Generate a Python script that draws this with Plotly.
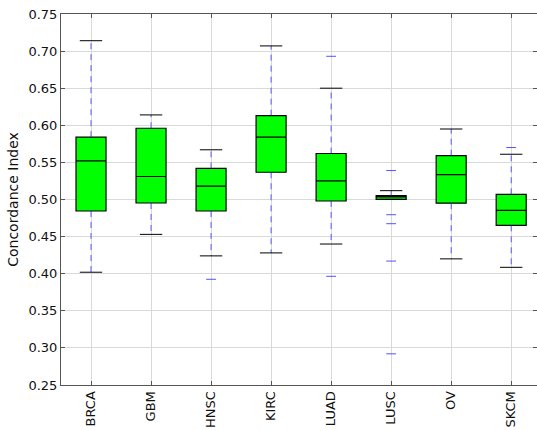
import plotly.graph_objects as go

categories = ["BRCA", "GBM", "HNSC", "KIRC", "LUAD", "LUSC", "OV", "SKCM"]
q1 = [0.4845, 0.4953, 0.4845, 0.5367, 0.4980, 0.5002, 0.4950, 0.4652]
median = [0.552, 0.531, 0.518, 0.584, 0.525, 0.5035, 0.5335, 0.4854]
q3 = [0.584, 0.596, 0.542, 0.613, 0.562, 0.5051, 0.559, 0.507]
whisker_low = [0.402, 0.453, 0.424, 0.428, 0.440, 0.5002, 0.420, 0.4086]
whisker_high = [0.714, 0.614, 0.567, 0.707, 0.650, 0.5119, 0.595, 0.561]
flier_cat = ["HNSC", "LUAD", "LUAD", "LUSC", "LUSC", "LUSC", "LUSC", "LUSC", "SKCM"]
flier_val = [0.3925, 0.693, 0.3965, 0.539, 0.4795, 0.4674, 0.417, 0.292, 0.570]

fig = go.Figure()

# whiskers (dashed blue)
wx, wy = [], []
for c, lo, a, b, hi in zip(categories, whisker_low, q1, q3, whisker_high):
    wx += [c, c, None, c, c, None]
    wy += [a, lo, None, b, hi, None]
fig.add_trace(go.Scatter(x=wx, y=wy, mode="lines",
                         line=dict(color="rgba(40,40,255,0.75)", width=1, dash="6px,5px"),
                         hoverinfo="skip", showlegend=False))

# boxes
fig.add_trace(go.Box(x=categories, q1=q1, median=median, q3=q3,
                     lowerfence=q1, upperfence=q3, width=0.5,
                     fillcolor="#00ff00", line=dict(color="black", width=1.2),
                     whiskerwidth=0, boxpoints=False, showlegend=False))

# caps
fig.add_trace(go.Scatter(x=categories + categories, y=whisker_low + whisker_high,
                         mode="markers",
                         marker=dict(symbol="line-ew", size=16,
                                     line=dict(color="black", width=1)),
                         showlegend=False, hoverinfo="skip"))

# fliers
fig.add_trace(go.Scatter(x=flier_cat, y=flier_val, mode="markers",
                         marker=dict(symbol="line-ew", size=7,
                                     line=dict(color="rgba(40,40,255,0.8)", width=1)),
                         showlegend=False))

axis_common = dict(showline=True, linecolor="#555555", linewidth=1, mirror="ticks",
                   ticks="inside", ticklen=4, tickcolor="#555555", automargin=False,
                   showgrid=True, gridcolor="#d9d9d9", gridwidth=1, zeroline=False,
                   tickfont=dict(family="DejaVu Sans", size=13, color="#111111"))

fig.update_layout(
    width=537, height=430,
    margin=dict(l=61, r=0, t=14, b=45),
    paper_bgcolor="white", plot_bgcolor="white",
    font=dict(family="DejaVu Sans", color="#111111"),
    xaxis=dict(type="category", categoryorder="array", categoryarray=categories,
               range=[-0.5, 7.43], tickangle=-90, **axis_common),
    yaxis=dict(range=[0.25, 0.75], dtick=0.05, tickformat=".2f",
               title=dict(text="Concordance Index", font=dict(size=14), standoff=6),
               **axis_common),
)

fig.write_html("out.html", config={"displayModeBar": False},
               post_script="document.body.style.margin='0';document.body.style.overflow='hidden';")
